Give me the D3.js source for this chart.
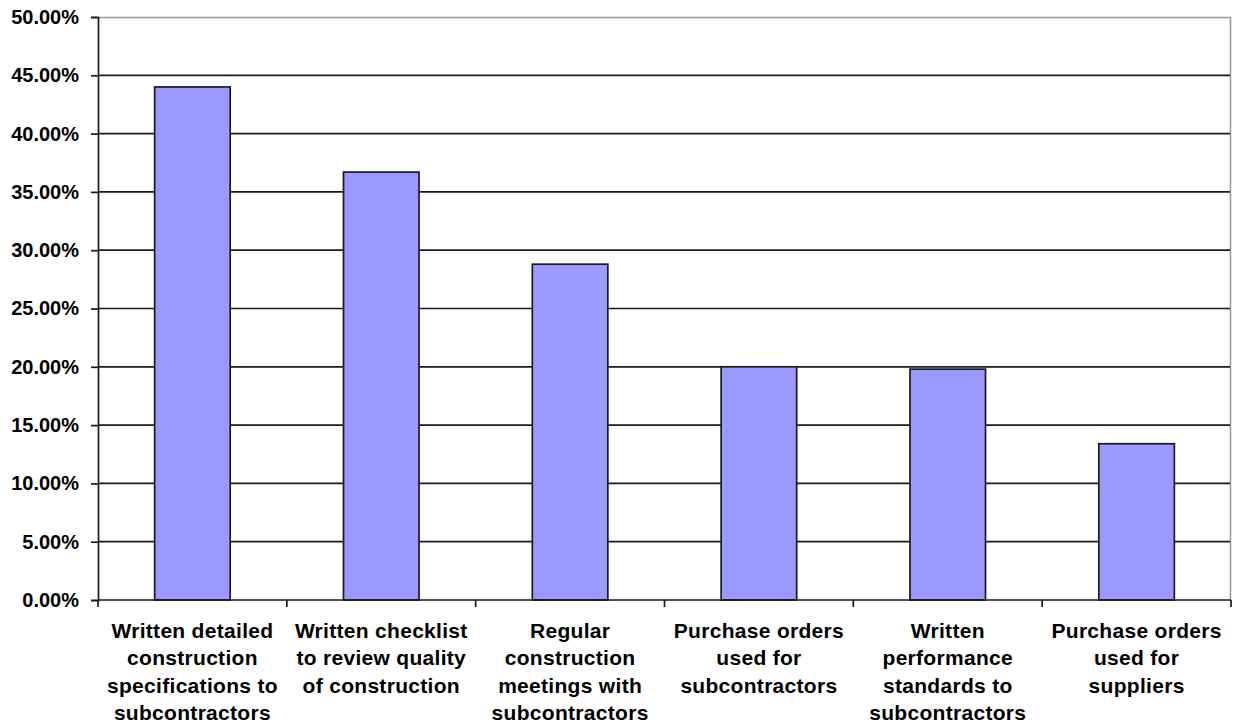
<!DOCTYPE html>
<html>
<head>
<meta charset="utf-8">
<script src="https://cdn.jsdelivr.net/npm/d3@7/dist/d3.min.js"></script>
<style>
  html, body { margin: 0; padding: 0; background: #fff; }
  svg { display: block; }
  text { font-family: "Liberation Sans", Arial, sans-serif; font-weight: bold; fill: #000; }
</style>
</head>
<body>
<svg id="chart" width="1235" height="728"></svg>
<script>
// Share of builders using each subcontractor quality-control practice
const categories = [
  "Written detailed\nconstruction\nspecifications to\nsubcontractors",
  "Written checklist\nto review quality\nof construction",
  "Regular\nconstruction\nmeetings with\nsubcontractors",
  "Purchase orders\nused for\nsubcontractors",
  "Written\nperformance\nstandards to\nsubcontractors",
  "Purchase orders\nused for\nsuppliers"
];
const values = [44.0, 36.7, 28.8, 20.0, 19.8, 13.4];
const yTicks = [0, 5, 10, 15, 20, 25, 30, 35, 40, 45, 50];

const width = 1235, height = 728;
const margin = { top: 17, right: 4, bottom: 128, left: 98 };
const innerW = width - margin.left - margin.right;
const innerH = height - margin.top - margin.bottom;

const svg = d3.select("#chart");
const g = svg.append("g").attr("transform", `translate(${margin.left},${margin.top})`);

const x = d3.scaleBand()
  .domain(d3.range(categories.length))
  .range([0, innerW])
  .paddingInner(0.6)
  .paddingOuter(0.3);

const y = d3.scaleLinear().domain([0, 50]).range([innerH, 0]);

// plot-area frame (top and right edges)
g.append("path")
  .attr("d", `M0,0.5H${innerW - 0.5}V${innerH}`)
  .attr("fill", "none")
  .attr("stroke", "#999")
  .attr("stroke-width", 1.5);

// horizontal gridlines
g.append("g")
  .selectAll("line")
  .data(yTicks.filter(d => d > 0 && d < 50))
  .join("line")
  .attr("x1", 0).attr("x2", innerW - 1)
  .attr("y1", d => y(d)).attr("y2", d => y(d))
  .attr("stroke", "#1a1a1a")
  .attr("stroke-width", 1.7);

// bars
g.append("g")
  .selectAll("rect")
  .data(values)
  .join("rect")
  .attr("x", (d, i) => x(i))
  .attr("y", d => y(d))
  .attr("width", x.bandwidth())
  .attr("height", d => innerH - y(d))
  .attr("fill", "#9999FF")
  .attr("stroke", "#1a1a1a")
  .attr("stroke-width", 1.7);

// y axis
const yAxis = g.append("g")
  .call(d3.axisLeft(y)
    .tickValues(yTicks)
    .tickFormat(d => d.toFixed(2) + "%")
    .tickSize(7)
    .tickPadding(12));
yAxis.attr("font-family", null);
yAxis.select(".domain").attr("stroke", "#1a1a1a").attr("stroke-width", 1.7);
yAxis.selectAll(".tick line").attr("stroke", "#1a1a1a").attr("stroke-width", 1.7);
yAxis.selectAll(".tick text")
  .attr("font-size", 20)
  .attr("fill", "#000");

// x axis baseline with boundary ticks between categories
const step = x.step();
const x0 = x(0) - step * x.paddingOuter();
const bounds = d3.range(categories.length + 1).map(i => x0 + i * step);
g.append("line")
  .attr("x1", 0).attr("x2", innerW)
  .attr("y1", innerH).attr("y2", innerH)
  .attr("stroke", "#1a1a1a").attr("stroke-width", 1.7);
g.append("g")
  .selectAll("line")
  .data(bounds)
  .join("line")
  .attr("x1", d => d).attr("x2", d => d)
  .attr("y1", innerH).attr("y2", innerH + 7)
  .attr("stroke", "#1a1a1a").attr("stroke-width", 1.7);

// category labels, wrapped on explicit breaks
const labels = g.append("g")
  .selectAll("text")
  .data(categories)
  .join("text")
  .attr("text-anchor", "middle")
  .attr("font-size", 21)
  .attr("letter-spacing", 0.3)
  .attr("transform", (d, i) => `translate(${x(i) + x.bandwidth() / 2},${innerH + 38})`);
labels.selectAll("tspan")
  .data(d => d.split("\n"))
  .join("tspan")
  .attr("x", 0)
  .attr("y", (d, i) => i * 27.3)
  .text(d => d);
</script>
</body>
</html>
